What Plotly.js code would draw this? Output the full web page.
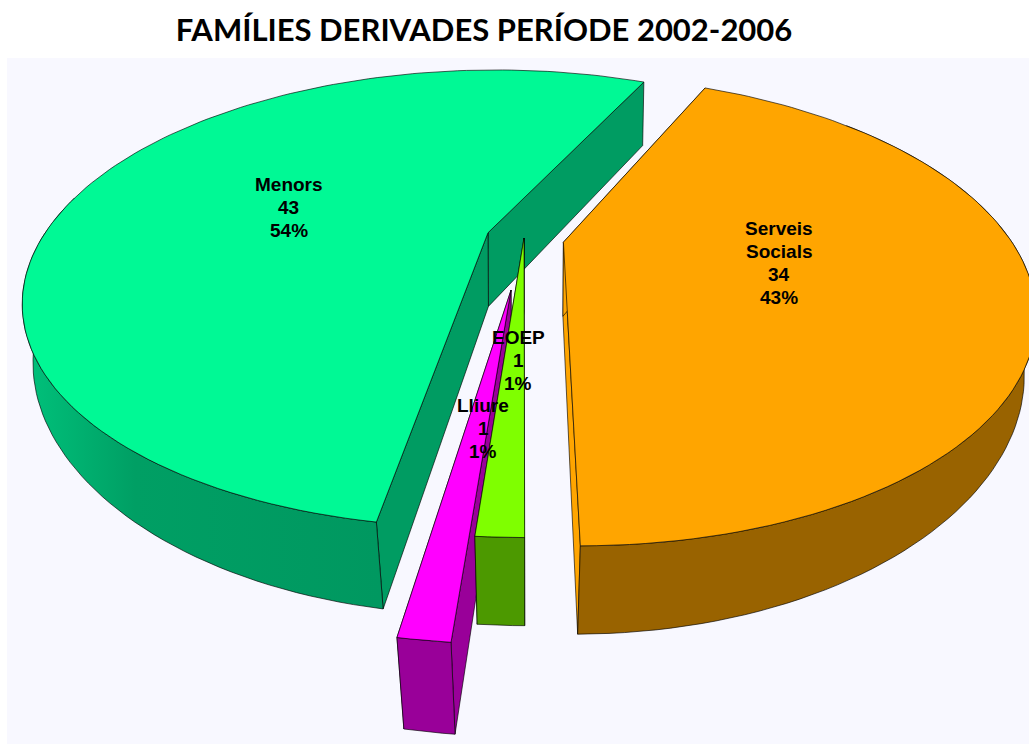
<!DOCTYPE html>
<html><head><meta charset="utf-8">
<script src="https://cdn.plot.ly/plotly-3.0.1.min.js"></script>
<style>html,body{margin:0;padding:0;background:#fff}#c{width:1029px;height:744px}</style>
</head><body><div id="c"></div>
<script>
const categories = ["Menors", "Lliure", "EOEP", "Serveis Socials"];
const values = [43, 1, 1, 34];
const percents = ["54%", "1%", "1%", "43%"];
const pulls = [0.085, 0.23, 0.0, 0.09];
const topColors = ["#00F995", "#FF00FF", "#7FFF00", "#FFA500"];
const sideColors = ["#009C62", "#990099", "#4C9900", "#996300"];
const faceColors = ["#009C62", "#990099", "#4C9900", "#FFA500"];
const labelX = [288.5, 483, 518, 779];
const labelY = [207, 428, 360, 263];
const startAngle = 65;
const originX = 524, originY = 238, radX = 446, radY = 212.7, persp = 0.29;
const depth = 74, depthPersp = 0.16;

const total = values.reduce((a, b) => a + b, 0);
function project(u, v, down) {
  const s = 1 + persp * v;
  const x = originX + radX * u / s;
  const y = originY - radY * v / s;
  if (!down) return [x, y];
  const lean = Math.max(0.01, 0.012 - 0.035 * v);
  const d = depth / (1 + depthPersp * v) * (1 - 0.12 * u * u);
  return [x - (x - originX) * lean, y + d];
}
const rad = d => d * Math.PI / 180;
const traces = [];
function addPoly(pts, color, extra) {
  const closed = pts.concat([pts[0]]);
  traces.push(Object.assign({
    type: "scatter", mode: "lines", x: closed.map(p => p[0]), y: closed.map(p => p[1]),
    fill: "toself", fillcolor: color,
    line: { color: "rgba(0,0,0,0.8)", width: 0.8 }, hoverinfo: "skip", showlegend: false
  }, extra || {}));
}
let a0 = startAngle;
const wedges = values.map((val, i) => {
  const sweep = val / total * 360;
  const w = { i, a0, a1: a0 + sweep, mid: a0 + sweep / 2 };
  a0 += sweep;
  return w;
});
function drawWedge(w) {
  const du = pulls[w.i] * Math.cos(rad(w.mid)), dv = pulls[w.i] * Math.sin(rad(w.mid));
  const on = (a, down) => project(du + Math.cos(rad(a)), dv + Math.sin(rad(a)), down);
  const apex = down => project(du, dv, down);
  const arc = (a, b, down) => {
    const n = Math.max(4, Math.ceil(Math.abs(b - a) / 1.5)), out = [];
    for (let k = 0; k <= n; k++) out.push(on(a + (b - a) * k / n, down));
    return out;
  };
  addPoly([apex(false), on(w.a0, false), on(w.a0, true), apex(true)], faceColors[w.i]);
  addPoly([apex(false), on(w.a1, false), on(w.a1, true), apex(true)], faceColors[w.i]);
  const lo = Math.max(w.a0, 170), hi = Math.min(w.a1, 400);
  if (hi > lo) {
    const extra = w.i === 0 ? { fillgradient: { type: "horizontal", start: 30, stop: 380,
      colorscale: [[0, "#00C07A"], [0.3, "#009F64"], [1, "#009860"]] } } : {};
    addPoly(arc(lo, hi, false).concat(arc(hi, lo, true)), sideColors[w.i], extra);
  }
  addPoly([apex(false)].concat(arc(w.a0, w.a1, false)), topColors[w.i]);
}
[wedges[0], wedges[3], wedges[1], wedges[2]].forEach(drawWedge);

const lineGap = 23;
const annotations = [];
categories.forEach((c, i) => {
  const lines = c.split(" ").concat([String(values[i]), percents[i]]);
  lines.forEach((t, k) => annotations.push({
    xref: "x", yref: "y", x: labelX[i], y: labelY[i] + (k - (lines.length - 1) / 2) * lineGap,
    showarrow: false, text: t, align: "center",
    font: { family: "Liberation Sans", size: 19, color: "#000", weight: 700 }
  }));
});
const layout = {
  width: 1029, height: 744, paper_bgcolor: "#fff", plot_bgcolor: "#F8F8FF",
  margin: { l: 7, r: 0, t: 58, b: 0, pad: 0 },
  title: { text: "<b>FAMÍLIES DERIVADES PERÍODE 2002-2006</b>", x: 484 / 1029, xanchor: "center", xref: "container",
    y: 1 - 30 / 744, yanchor: "middle", yref: "container",
    font: { family: "Lato", size: 31, color: "#000" } },
  xaxis: { range: [7, 1029], visible: false, fixedrange: true },
  yaxis: { range: [744, 58], visible: false, fixedrange: true },
  showlegend: false, annotations
};
Plotly.newPlot("c", traces, layout, { displayModeBar: false, staticPlot: true });
</script></body></html>
